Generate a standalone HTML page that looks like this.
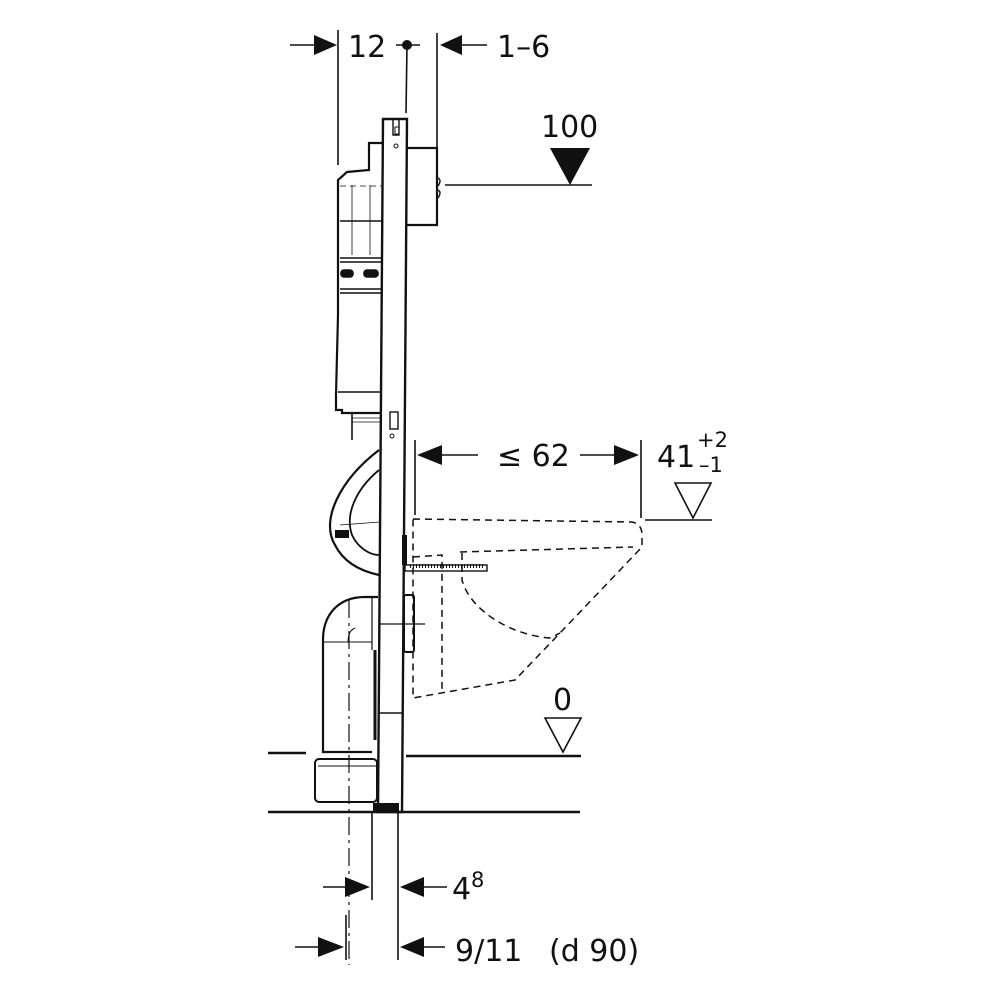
<!DOCTYPE html>
<html><head><meta charset="utf-8"><style>
html,body{margin:0;padding:0;background:#fff;}
svg{display:block;}
text{font-family:"DejaVu Sans","Liberation Sans",sans-serif;fill:#111;}
</style></head><body>
<svg width="1000" height="1000" viewBox="0 0 1000 1000" xmlns="http://www.w3.org/2000/svg">
<g stroke="#111" fill="none" stroke-width="1.6">
<!-- top dims -->
<line x1="290" y1="45" x2="315" y2="45"/>
<polygon points="314,35 314,55 337,45" fill="#111" stroke="none"/>
<line x1="338" y1="30" x2="338" y2="165"/>
<line x1="396" y1="45" x2="420" y2="45"/>
<circle cx="407" cy="45" r="5" fill="#111" stroke="none"/>
<line x1="407" y1="45" x2="406" y2="113"/>
<line x1="437" y1="33" x2="437" y2="148"/>
<polygon points="462,35 462,55 440,45" fill="#111" stroke="none"/>
<line x1="462" y1="45" x2="487" y2="45"/>
<!-- 100 -->
<polygon points="550,148 590,148 570,185" fill="#111" stroke="none"/>
<line x1="445" y1="185" x2="592" y2="185"/>
<!-- frame bar -->
<path d="M383,119 L407,119 L402,812 L378,812 Z" stroke-width="2.4"/>
<path d="M393,119 L393,135 L399,135 L399,119" stroke-width="1.4"/>
<rect x="395" y="127" width="4" height="7" stroke-width="1"/>
<circle cx="396" cy="146" r="2" stroke-width="1"/>
<rect x="390" y="412" width="8" height="17" stroke-width="1.4"/>
<circle cx="392" cy="436" r="2" stroke-width="1"/>
<!-- tank right box -->
<path d="M406,148 L437,148 L437,225 L406,225" stroke-width="2.2"/>
<path d="M438,178 q4,2 0,8 M438,190 q4,2 0,8" stroke-width="1.4"/>
<!-- cistern left body -->
<path d="M382,143 L369,143 L369,170 L347,172 L338,180 L338,315 L336,395 L336,410 L342,410 L342,413 L382,413" stroke-width="2.2"/>
<line x1="340" y1="221" x2="382" y2="221"/>
<line x1="340" y1="262" x2="382" y2="262"/>
<line x1="340" y1="258" x2="382" y2="258"/>
<line x1="340" y1="289" x2="382" y2="289"/>
<line x1="340" y1="293" x2="382" y2="293"/>
<line x1="338" y1="392" x2="382" y2="392"/>
<line x1="352" y1="185" x2="352" y2="255" stroke-width="0.8"/>
<line x1="370" y1="185" x2="370" y2="255" stroke-width="0.8"/>
<line x1="340" y1="186" x2="382" y2="186" stroke-dasharray="6 4" stroke-width="0.8"/>
<rect x="341" y="270" width="12" height="7" rx="3" fill="#111"/>
<rect x="364" y="270" width="14" height="7" rx="3" fill="#111"/>
<line x1="352" y1="413" x2="352" y2="440"/>
<line x1="352" y1="418" x2="382" y2="418" stroke-width="0.8"/>
<line x1="352" y1="422" x2="382" y2="422" stroke-width="0.8"/>
<!-- siphon S -->
<path d="M379,450 C340,480 320,520 335,545 C345,565 365,572 379,575" stroke-width="2.2"/>
<path d="M379,470 C355,490 345,515 352,535 C358,548 370,555 379,555" stroke-width="1.8"/>
<line x1="340" y1="525" x2="380" y2="522" stroke-width="0.8"/>
<rect x="335" y="530" width="14" height="8" fill="#111" stroke="none"/>
<!-- elbow pipe -->
<path d="M378,597 L365,597 C338,597 323,615 323,640 L323,752 L372,752" stroke-width="2.2"/>
<line x1="372" y1="597" x2="372" y2="650" stroke-width="1.2"/>
<line x1="323" y1="642" x2="372" y2="642" stroke-width="1"/>
<path d="M355,628 C350,630 348,635 348,642" stroke-width="1"/>
<line x1="349" y1="600" x2="349" y2="965" stroke-dasharray="18 5 3 5" stroke-width="1.2"/>
<line x1="375" y1="650" x2="375" y2="740" stroke-width="3"/>
<line x1="379" y1="713" x2="403" y2="713" stroke-width="1.6"/>
<!-- foot box -->
<rect x="315" y="759" width="62" height="43" rx="4" stroke-width="2"/>
<line x1="318" y1="766" x2="376" y2="766" stroke-width="1"/>
<rect x="373" y="803" width="26" height="8" fill="#111" stroke="none"/>
<!-- right side wall elements -->
<rect x="402" y="535" width="5" height="30" fill="#111" stroke="none"/>
<rect x="404" y="595" width="10" height="57" rx="2" stroke-width="2"/>
<line x1="380" y1="624" x2="425" y2="624" stroke-width="1.2"/>
<!-- bolt -->
<rect x="405" y="565" width="82" height="6" stroke-width="1.4"/>
<line x1="410" y1="566" x2="485" y2="566" stroke-dasharray="1 2" stroke-width="4"/>
<!-- bowl dashed -->
<g stroke-dasharray="7 5" stroke-width="1.5">
<path d="M413,519 L632,522 Q642,524 642,535 L642,547 L560,633 L515,680 L413,698 L413,519"/>
<path d="M460,552 L633,547"/>
<path d="M413,557 L442,555 L442,693"/>
<path d="M462,553 L462,580 C470,610 510,635 550,638 L560,633"/>
</g>
<!-- 62 dim -->
<line x1="415" y1="440" x2="415" y2="515"/>
<line x1="641" y1="440" x2="641" y2="518"/>
<polygon points="417,455 442,445 442,465" fill="#111" stroke="none"/>
<line x1="442" y1="455" x2="478" y2="455"/>
<polygon points="639,455 614,445 614,465" fill="#111" stroke="none"/>
<line x1="580" y1="455" x2="614" y2="455"/>
<!-- 41 level -->
<polygon points="675,483 711,483 693,518" stroke-width="1.6"/>
<line x1="645" y1="520" x2="712" y2="520"/>
<!-- 0 level -->
<polygon points="545,718 581,718 563,752" stroke-width="1.6"/>
<!-- floors -->
<line x1="268" y1="753" x2="306" y2="753" stroke-width="2.4"/>
<line x1="406" y1="756" x2="581" y2="756" stroke-width="2.4"/>
<line x1="268" y1="812" x2="580" y2="812" stroke-width="2.4"/>
<!-- bottom dims -->
<line x1="372" y1="812" x2="372" y2="900"/>
<line x1="398" y1="812" x2="398" y2="960"/>
<line x1="346" y1="915" x2="346" y2="960"/>
<line x1="323" y1="887" x2="347" y2="887"/>
<polygon points="345,877 345,897 370,887" fill="#111" stroke="none"/>
<polygon points="400,887 424,877 424,897" fill="#111" stroke="none"/>
<line x1="424" y1="887" x2="447" y2="887"/>
<line x1="295" y1="947" x2="320" y2="947"/>
<polygon points="318,937 318,957 344,947" fill="#111" stroke="none"/>
<polygon points="400,947 424,937 424,957" fill="#111" stroke="none"/>
<line x1="424" y1="947" x2="445" y2="947"/>
</g>
<g font-size="30">
<text x="348" y="57">12</text>
<text x="497" y="57">1–6</text>
<text x="541" y="137">100</text>
<text x="497" y="466">≤ 62</text>
<text x="657" y="467">41</text>
<text x="697" y="447" font-size="21">+2</text>
<text x="699" y="472" font-size="21">–1</text>
<text x="553" y="710">0</text>
<text x="452" y="899">4</text>
<text x="471" y="887" font-size="21">8</text>
<text x="455" y="961">9/11</text>
<text x="549" y="961">(d 90)</text>
</g>
</svg>
</body></html>
